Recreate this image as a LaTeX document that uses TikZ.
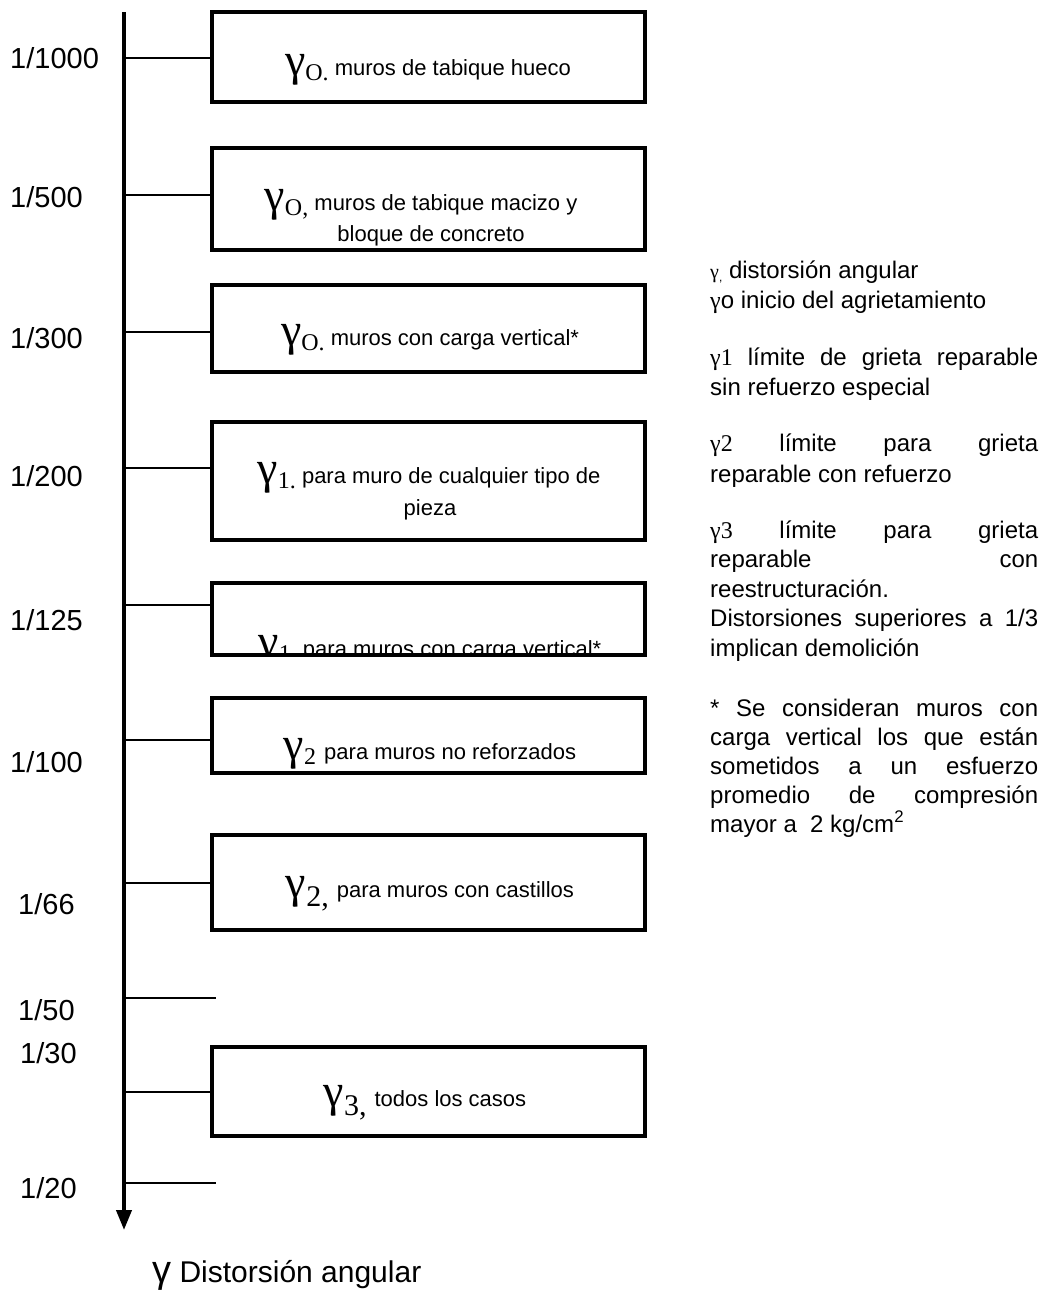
\documentclass[tikz,border=0pt]{standalone}
\usepackage{fontspec}
\setmainfont{Liberation Sans}
\newfontfamily\tnr{Liberation Serif}
\usetikzlibrary{arrows.meta}

% large serif gamma with a lowered serif index (small and large index)
\newcommand{\gind}[1]{{\tnr\fontsize{46}{46}\selectfont γ}\raisebox{-5pt}{\tnr\fontsize{24}{24}\selectfont #1}}
\newcommand{\gindb}[1]{{\tnr\fontsize{46}{46}\selectfont γ}\raisebox{-9pt}{\tnr\fontsize{30}{30}\selectfont #1}}
% small serif gamma used in the notes
\newcommand{\sg}{{\tnr γ}}

\begin{document}
\begin{tikzpicture}[x=1pt,y=-1pt,
  boxnode/.style={draw, line width=4pt, minimum width=433pt, inner sep=0pt},
  tickline/.style={line width=1.5pt},
  axisline/.style={line width=4pt, -{Triangle[width=15pt,length=20pt]}},
  scalelabel/.style={anchor=west, inner sep=0pt, font=\fontsize{29}{29}\selectfont},
  boxtext/.style={anchor=base, inner sep=0pt, font=\fontsize{22}{22}\selectfont},
  note/.style={anchor=base west, inner sep=0pt, font=\fontsize{24}{24}\selectfont}]
\useasboundingbox (0,0) rectangle (1048,1293);

% ---- boxes
\node[boxnode, minimum height=90pt]  (b1) at (428.5,57)    {};
\node[boxnode, minimum height=102pt] (b2) at (428.5,199)   {};
\node[boxnode, minimum height=87pt]  (b3) at (428.5,328.5) {};
\node[boxnode, minimum height=118pt] (b4) at (428.5,481)   {};
\node[boxnode, minimum height=72pt]  (b5) at (428.5,619)   {};
\node[boxnode, minimum height=75pt]  (b6) at (428.5,735)   {};
\node[boxnode, minimum height=95pt]  (b7) at (428.5,882.5) {};
\node[boxnode, minimum height=89pt]  (b8) at (428.5,1091.5){};

% ---- box texts
\node[boxtext] (x1) at (428,75) {\gind{O.} muros de tabique hueco};
\node[boxtext] (x2a) at (421,210) {\gind{O,} muros de tabique macizo y};
\node[boxtext] (x2b) at (431,241) {bloque de concreto};
\node[boxtext] (x3) at (430,345) {\gind{O.} muros con carga vertical*};
\node[boxtext] (x4a) at (429,483) {\gind{1.} para muro de cualquier tipo de};
\node[boxtext] (x4b) at (430,515) {pieza};
\begin{scope}
  \clip (214,585) rectangle (643,652);
  \node[boxtext] (x5) at (430,656) {\gind{1}\hspace{12pt}para muros con carga vertical*};
\end{scope}
\node[boxtext] (x6) at (430,759) {\gind{2}\hspace{8pt}para muros no reforzados};
\node[boxtext] (x7) at (430,897) {\gindb{2,}\hspace{8pt}para muros con castillos};
\node[boxtext] (x8) at (425,1106) {\gindb{3,}\hspace{8pt}todos los casos};

% ---- axis and ticks
\coordinate (atop) at (124,12);
\coordinate (abot) at (124,1230);
\draw[axisline] (atop) -- (abot);

\coordinate (t1) at (124,58);
\coordinate (t2) at (124,195);
\coordinate (t3) at (124,332);
\coordinate (t4) at (124,468);
\coordinate (t5) at (124,605);
\coordinate (t6) at (124,740);
\coordinate (t7) at (124,883);
\coordinate (t8) at (124,998);
\coordinate (t9) at (124,1092);
\coordinate (t10) at (124,1183);
\coordinate (e8) at (216,998);
\coordinate (e10) at (216,1183);

\draw[tickline] (t1) -- (t1 -| b1.west);
\draw[tickline] (t2) -- (t2 -| b2.west);
\draw[tickline] (t3) -- (t3 -| b3.west);
\draw[tickline] (t4) -- (t4 -| b4.west);
\draw[tickline] (t5) -- (t5 -| b5.west);
\draw[tickline] (t6) -- (t6 -| b6.west);
\draw[tickline] (t7) -- (t7 -| b7.west);
\draw[tickline] (t8) -- (e8);
\draw[tickline] (t9) -- (t9 -| b8.west);
\draw[tickline] (t10) -- (e10);

% ---- scale labels
\node[scalelabel] (l1) at (10,58) {1/1000};
\node[scalelabel] (l2) at (10,197) {1/500};
\node[scalelabel] (l3) at (10,338) {1/300};
\node[scalelabel] (l4) at (10,476) {1/200};
\node[scalelabel] (l5) at (10,620) {1/125};
\node[scalelabel] (l6) at (10,762) {1/100};
\node[scalelabel] (l7) at (18,904) {1/66};
\node[scalelabel] (l8) at (18,1010) {1/50};
\node[scalelabel] (l9) at (20,1053) {1/30};
\node[scalelabel] (l10) at (20,1188) {1/20};

% ---- axis caption
\node[anchor=base west, inner sep=0pt, font=\fontsize{30}{30}\selectfont] (cap) at (152,1282)
  {{\fontsize{38}{38}\selectfont γ} Distorsión angular};

% ---- notes
\node[note] (n1) at (710,278) {{\fontsize{20}{20}\selectfont\sg\raisebox{-3pt}{\fontsize{12}{12}\selectfont ,}} distorsión angular};
\node[note] (n2) at (710,308) {\sg o inicio del agrietamiento};
\node[note] (n3a) at (710,365) {\makebox[328pt][s]{{\tnr γ1} límite de grieta reparable}};
\node[note] (n3b) at (710,395) {sin refuerzo especial};
\node[note] (n4a) at (710,451) {\makebox[328pt][s]{{\tnr γ2} límite para grieta}};
\node[note] (n4b) at (710,482) {reparable con refuerzo};
\node[note] (n5a) at (710,538) {\makebox[328pt][s]{{\tnr γ3} límite para grieta}};
\node[note] (n5b) at (710,567.5) {\makebox[328pt][s]{reparable con}};
\node[note] (n5c) at (710,597) {reestructuración.};
\node[note] (n5d) at (710,626.5) {\makebox[328pt][s]{Distorsiones superiores a 1/3}};
\node[note] (n5e) at (710,656) {implican demolición};
\node[note] (n6a) at (710,716) {\makebox[328pt][s]{* Se consideran muros con}};
\node[note] (n6b) at (710,745) {\makebox[328pt][s]{carga vertical los que están}};
\node[note] (n6c) at (710,774) {\makebox[328pt][s]{sometidos a un esfuerzo}};
\node[note] (n6d) at (710,803) {\makebox[328pt][s]{promedio de compresión}};
\node[note] (n6e) at (710,832) {mayor a\ \ 2 kg/cm\textsuperscript{2}};
\end{tikzpicture}
\end{document}
